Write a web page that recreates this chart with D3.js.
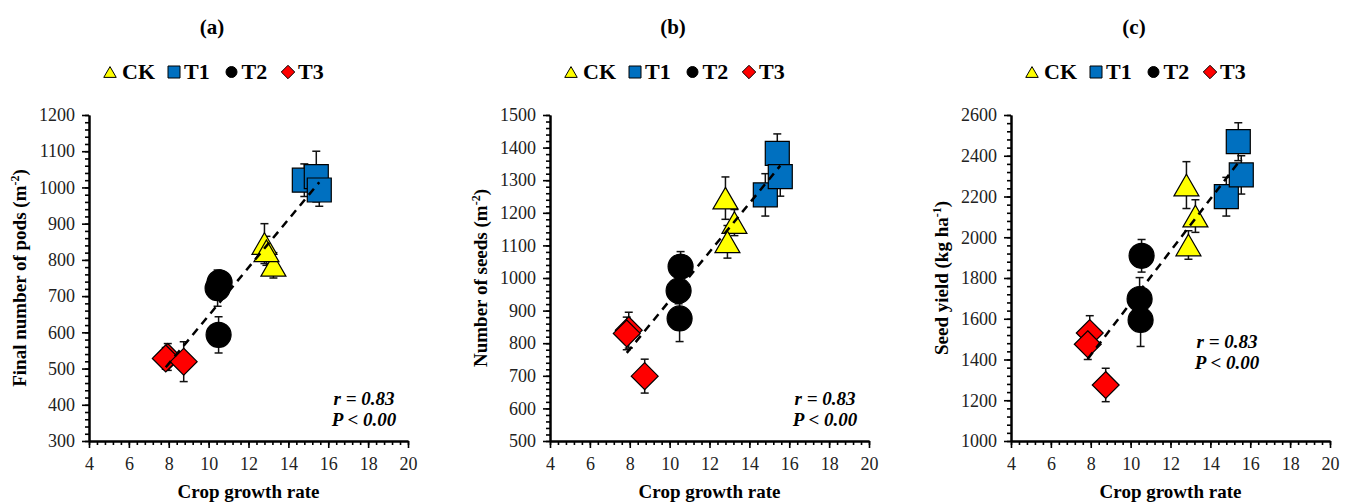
<!DOCTYPE html>
<html>
<head>
<meta charset="utf-8">
<script src="https://cdn.jsdelivr.net/npm/d3@7"></script>
<style>
  body { margin: 0; background: #fff; }
  text { font-family: "Liberation Serif", "Times New Roman", serif; }
</style>
</head>
<body>
<svg id="chart" width="1354" height="504"></svg>
<script>
// treatments, in legend order
const groups = ["CK", "T1", "T2", "T3"];
const colors = ["#FFFF00", "#0070C0", "#000000", "#FF0000"];

// crop growth rate (x) for the three points of each treatment
const cgr = [[12.8, 13.25, 12.9], [14.8, 15.4, 15.55], [10.55, 10.45, 10.5], [7.95, 7.85, 8.75]];

// (a) final number of pods
const pods = [[845, 785, 825], [1020, 1030, 993], [738, 722, 593], [532, 528, 519]];
const podsErr = [[55, 35, 40], [45, 70, 45], [30, 50, 50], [37, 30, 55]];
// (b) number of seeds
const seeds = [[1245, 1170, 1111], [1255, 1382, 1311], [1035, 961, 876], [840, 830, 699]];
const seedsErr = [[65, 40, 50], [65, 60, 60], [46, 40, 71], [55, 50, 52]];
// (c) seed yield
const seedYield = [[2256, 2104, 1962], [2199, 2469, 2306], [1909, 1697, 1594], [1530, 1475, 1275]];
const seedYieldErr = [[115, 80, 70], [95, 93, 94], [80, 105, 130], [85, 75, 82]];

const xTicks = [4, 6, 8, 10, 12, 14, 16, 18, 20];
const podsTicks = [300, 400, 500, 600, 700, 800, 900, 1000, 1100, 1200];
const seedsTicks = [500, 600, 700, 800, 900, 1000, 1100, 1200, 1300, 1400, 1500];
const yieldTicks = [1000, 1200, 1400, 1600, 1800, 2000, 2200, 2400, 2600];

const panels = [
  { tag: "(a)", mean: pods, err: podsErr, ticks: podsTicks,
    label: ["Final number of pods (m", "-2", ")"], stat: [275, 405] },
  { tag: "(b)", mean: seeds, err: seedsErr, ticks: seedsTicks,
    label: ["Number of seeds (m", "-2", ")"], stat: [275, 405] },
  { tag: "(c)", mean: seedYield, err: seedYieldErr, ticks: yieldTicks,
    label: ["Seed yield (kg ha", "-1", ")"], stat: [216, 348] }
];

const svg = d3.select("#chart");
const plotTop = 115, plotBottom = 441, plotW = 319;

// marker outlines centred on 0,0
function marker(i, s) {
  if (i === 0) return `M0,${-s * 0.45}L${s * 0.52},${s * 0.45}L${-s * 0.52},${s * 0.45}Z`;
  if (i === 1) return `M${-s / 2},${-s / 2}h${s}v${s}h${-s}Z`;
  if (i === 2) return d3.symbol(d3.symbolCircle, Math.PI * s * s / 4)();
  const h = s * 0.56;
  return `M0,${-h}L${h},0L0,${h}L${-h},0Z`;
}

panels.forEach(function(p, k) {
  const x0 = 89 + k * 461;
  const g = svg.append("g");

  const x = d3.scaleLinear().domain([4, 20]).range([x0, x0 + plotW]);
  const yLo = p.ticks[0], yHi = p.ticks[p.ticks.length - 1];
  const step = p.ticks[1] - p.ticks[0];
  const y = d3.scaleLinear().domain([yLo, yHi]).range([plotBottom, plotTop]);

  // minor ticks first, then the major axis with its labels
  g.append("g").attr("transform", `translate(${x0},0)`)
    .call(d3.axisLeft(y).tickValues(d3.range(yLo, yHi + 0.01, step / 5)).tickSize(4).tickFormat("").tickSizeOuter(0));
  g.append("g").attr("transform", `translate(0,${plotBottom})`)
    .call(d3.axisBottom(x).tickValues(d3.range(4, 20.01, 0.4)).tickSize(4).tickFormat("").tickSizeOuter(0));

  const ya = g.append("g").attr("transform", `translate(${x0},0)`)
    .call(d3.axisLeft(y).tickValues(p.ticks).tickFormat(d3.format("d"))
      .tickSize(7).tickPadding(7).tickSizeOuter(0));
  const xa = g.append("g").attr("transform", `translate(0,${plotBottom})`)
    .call(d3.axisBottom(x).tickValues(xTicks).tickFormat(d3.format("d"))
      .tickSize(7).tickPadding(9).tickSizeOuter(0));

  g.selectAll(".domain").attr("stroke", "#000").attr("stroke-width", 2);
  g.selectAll(".tick line").attr("stroke", "#000").attr("stroke-width", 1.6);
  [ya, xa].forEach(a => a.selectAll("text")
    .attr("font-family", '"Liberation Serif", "Times New Roman", serif')
    .attr("font-size", 18).attr("fill", "#222"));

  // titles
  g.append("text").attr("x", x0 + 123).attr("y", 34).attr("text-anchor", "middle")
    .attr("font-size", 21).attr("font-weight", "bold").text(p.tag);

  g.append("text").attr("x", x0 + plotW / 2).attr("y", 498).attr("text-anchor", "middle")
    .attr("font-size", 19).attr("font-weight", "bold").text("Crop growth rate");

  const yl = g.append("text")
    .attr("transform", `translate(${x0 - 63},${(plotTop + plotBottom) / 2}) rotate(-90)`)
    .attr("text-anchor", "middle").attr("font-size", 19).attr("font-weight", "bold");
  yl.append("tspan").text(p.label[0]);
  yl.append("tspan").attr("font-size", 12).attr("dy", -7).text(p.label[1]);
  yl.append("tspan").attr("dy", 7).text(p.label[2]);

  // legend
  const legX = [21, 85, 142.5, 199];
  groups.forEach(function(name, i) {
    g.append("path").attr("d", marker(i, i === 2 ? 11 : 12))
      .attr("transform", `translate(${x0 + legX[i]},72)`)
      .attr("fill", colors[i]).attr("stroke", "#000").attr("stroke-width", 1);
    g.append("text").attr("x", x0 + legX[i] + (i === 0 ? 12 : 10)).attr("y", 79)
      .attr("font-size", 22).attr("font-weight", "bold").text(name);
  });

  // points as flat rows
  const pts = [];
  groups.forEach(function(name, i) {
    cgr[i].forEach(function(v, j) {
      pts.push({ g: i, x: v, y: p.mean[i][j], e: p.err[i][j] });
    });
  });

  // error bars behind the markers
  const eb = g.append("g").attr("stroke", "#111").attr("stroke-width", 1.5);
  pts.forEach(function(d) {
    const cx = x(d.x);
    eb.append("line").attr("x1", cx).attr("x2", cx).attr("y1", y(d.y - d.e)).attr("y2", y(d.y + d.e));
    [d.y - d.e, d.y + d.e].forEach(v => eb.append("line")
      .attr("x1", cx - 4).attr("x2", cx + 4).attr("y1", y(v)).attr("y2", y(v)));
  });

  g.append("g").selectAll("path").data(pts).join("path")
    .attr("d", d => marker(d.g, d.g === 2 ? 25 : 24))
    .attr("transform", d => `translate(${x(d.x)},${y(d.y)})`)
    .attr("fill", d => colors[d.g]).attr("stroke", "#000").attr("stroke-width", 1.2);

  // least squares line over all points
  const mx = d3.mean(pts, d => d.x), my = d3.mean(pts, d => d.y);
  const slope = d3.sum(pts, d => (d.x - mx) * (d.y - my)) / d3.sum(pts, d => (d.x - mx) ** 2);
  const ext = d3.extent(pts, d => d.x);
  g.append("line")
    .attr("x1", x(ext[0])).attr("y1", y(my + slope * (ext[0] - mx)))
    .attr("x2", x(ext[1])).attr("y2", y(my + slope * (ext[1] - mx)))
    .attr("stroke", "#000").attr("stroke-width", 2.5).attr("stroke-dasharray", "8,6");

  // correlation note
  const st = g.append("text").attr("text-anchor", "middle").attr("font-size", 19)
    .attr("font-weight", "bold").attr("font-style", "italic");
  st.append("tspan").attr("x", x0 + p.stat[0]).attr("y", p.stat[1]).text("r = 0.83");
  st.append("tspan").attr("x", x0 + p.stat[0]).attr("y", p.stat[1] + 21).text("P < 0.00");
});
</script>
</body>
</html>
